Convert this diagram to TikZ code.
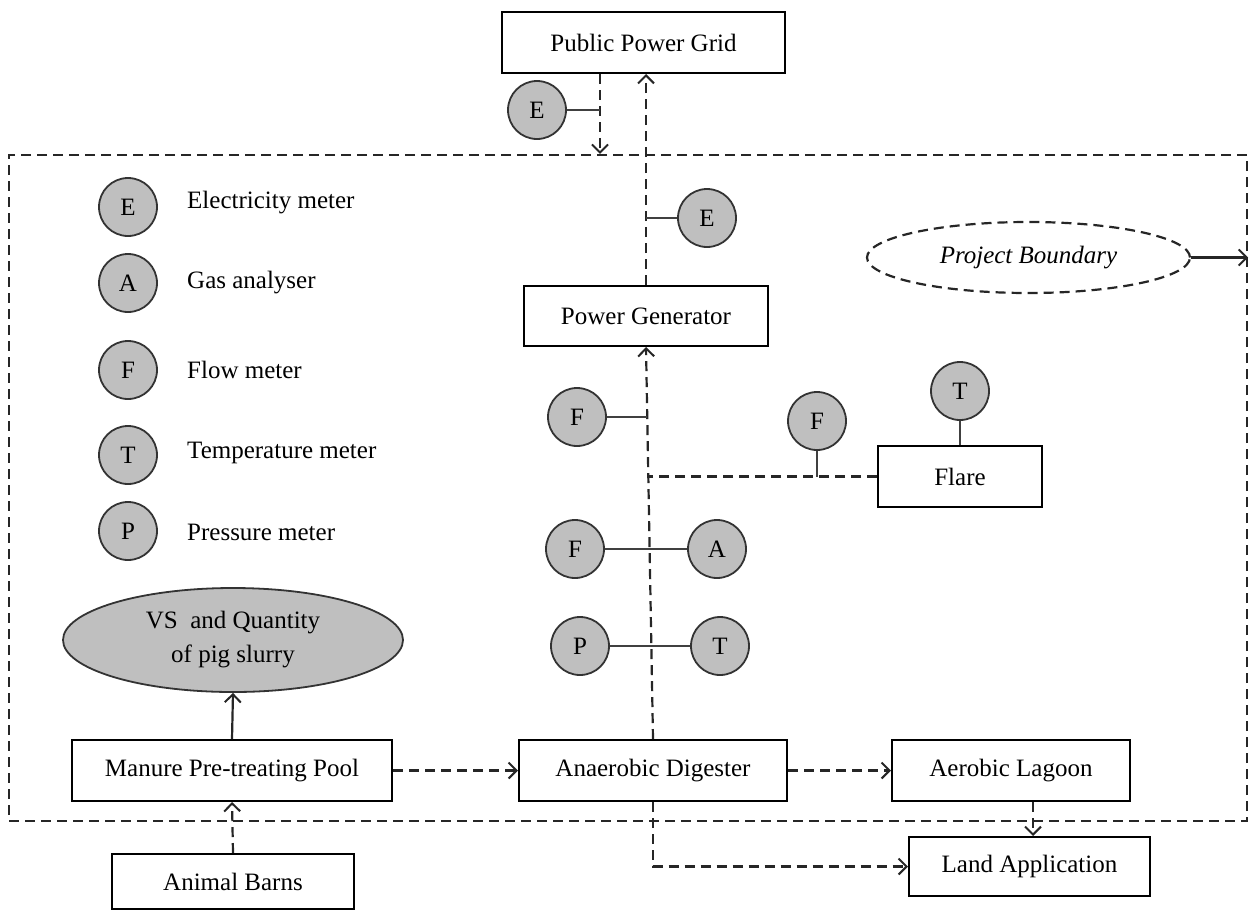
\documentclass[tikz,border=0pt]{standalone}
\usepackage{fontspec}
\setmainfont{Liberation Serif}
\usetikzlibrary{arrows.meta,shapes.geometric,calc}
\begin{document}
\begin{tikzpicture}[x=1pt,y=-1pt,
  every node/.style={font=\fontsize{25}{34}\selectfont, text=black},
  proc/.style={draw=black, line width=2pt, rectangle, inner sep=0pt},
  meter/.style={circle, draw=black!80, line width=1.8pt, fill=black!25, minimum size=58pt, inner sep=0pt},
  flow/.style={dash pattern=on 10pt off 6pt, line width=2.2pt, draw=black!85},
  tap/.style={line width=2pt, draw=black!75},
  solidflow/.style={line width=2.2pt, draw=black!85},
  tip/.style={-{Straight Barb[length=8pt,width=16pt,line width=2pt]}},
  legend/.style={anchor=west, inner sep=0pt}
]
\useasboundingbox (0,0) rectangle (1249,916);

% project boundary
\node[flow, rectangle, minimum width=1238pt, minimum height=666pt, inner sep=0pt] (bnd) at (628,488) {};

% process units
\node[proc, minimum width=283pt, minimum height=61pt] (grid)   at (643.5,42.5) {Public Power Grid};
\node[proc, minimum width=244pt, minimum height=60pt] (gen)    at (646,316)    {Power Generator};
\node[proc, minimum width=164pt, minimum height=61pt] (flare)  at (960,476.5)  {Flare};
\node[proc, minimum width=320pt, minimum height=61pt] (manure) at (232,770.5)  {Manure Pre-treating Pool};
\node[proc, minimum width=268pt, minimum height=61pt] (dig)    at (653,770.5)  {Anaerobic Digester};
\node[proc, minimum width=238pt, minimum height=61pt] (lagoon) at (1011,770.5) {Aerobic Lagoon};
\node[proc, minimum width=241pt, minimum height=59pt] (land)   at (1029.5,866.5){Land Application};
\node[proc, minimum width=242pt, minimum height=55pt] (barns)  at (233,881.5)  {Animal Barns};

% ellipses
\node[ellipse, draw=black!80, line width=1.8pt, fill=black!25, minimum width=340pt, minimum height=104pt, inner sep=0pt, align=center] (vs) at (233,640) {VS\ \ and Quantity\\of pig slurry};
\node[ellipse, flow, minimum width=323pt, minimum height=71pt, inner sep=0pt] (pb) at (1028.5,257.5) {\itshape Project Boundary};

% legend
\node[meter] (lgE) at (128,207) {E};
\node[meter] (lgA) at (128,283) {A};
\node[meter] (lgF) at (128,370) {F};
\node[meter] (lgT) at (128,455) {T};
\node[meter] (lgP) at (128,531) {P};
\node[legend] (lgEt) at (187,203) {Electricity meter};
\node[legend] (lgAt) at (187,283) {Gas analyser};
\node[legend] (lgFt) at (187,370) {Flow meter};
\node[legend] (lgTt) at (187,453) {Temperature meter};
\node[legend] (lgPt) at (187,532) {Pressure meter};

% meters on the flows
\node[meter] (eg) at (537,110) {E};
\node[meter] (eG) at (707,218) {E};
\node[meter] (fG) at (577,417) {F};
\node[meter] (fF) at (817,421) {F};
\node[meter] (tF) at (960,391) {T};
\node[meter] (fA) at (575,549) {F};
\node[meter] (aA) at (717,549) {A};
\node[meter] (pP) at (580,646) {P};
\node[meter] (tT) at (720,646) {T};

\coordinate (gin) at (600,0);
\coordinate (lgx) at (1033,0);
% points on the biogas line where the taps meet it
\coordinate (sp1) at ($(gen.south)!0.18!(dig.north)$);
\coordinate (sp2) at ($(gen.south)!0.335!(dig.north)$);

% flows
\draw[flow,tip] (grid.south -| gin) -- (bnd.north -| gin);
\draw[flow,tip] (gen.north) -- (gen.north |- grid.south);
\draw[flow,tip] (dig.north) -- (gen.south);
\draw[flow] (flare.west) -- (flare.west -| sp2);
\draw[flow,tip] (manure.east) -- (dig.west);
\draw[flow,tip] (dig.east) -- (lagoon.west);
\draw[flow,tip] (barns.north) -- (manure.south);
\draw[flow,tip] (lagoon.south -| lgx) -- (land.north -| lgx);
\draw[flow,tip] (dig.south) -- (dig.south |- land.west) -- (land.west);
\draw[solidflow,tip] (manure.north) -- (vs.south);
\draw[solidflow,tip] (pb.east) -- (pb.east -| bnd.east);

% meter taps
\draw[tap] (eg.east) -- (eg.east -| gin);
\draw[tap] (eG.west) -- (eG.west -| gen.north);
\draw[tap] (fG.east) -- (fG.east -| sp1);
\draw[tap] (fF.south) -- (fF.south |- flare.west);
\draw[tap] (tF.south) -- (flare.north);
\draw[tap] (fA.east) -- (aA.west);
\draw[tap] (pP.east) -- (tT.west);
\end{tikzpicture}
\end{document}
